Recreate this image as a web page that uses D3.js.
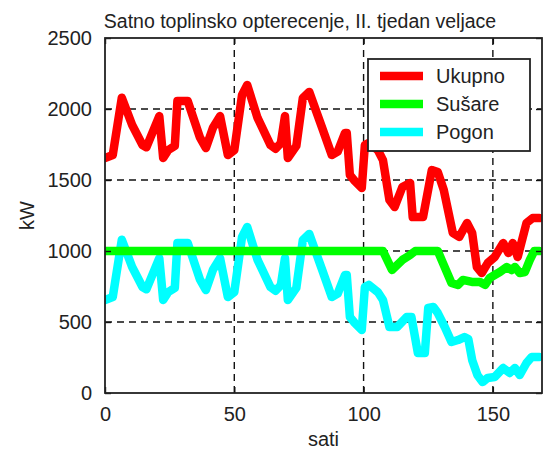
<!DOCTYPE html>
<html>
<head>
<meta charset="utf-8">
<script src="https://cdn.jsdelivr.net/npm/d3@7"></script>
<style>
  body { margin: 0; background: #fff; }
  text { font-family: "Liberation Sans", Arial, sans-serif; fill: #222; }
</style>
</head>
<body>
<div id="chart"></div>
<script>
// hourly heat load, second week of February
// each point is [hour, kW]
let pogon = [
  [0, 655], [3, 676], [6.5, 1080], [10.5, 887], [14.5, 746], [16, 730], [21, 950],
  [22.5, 655], [24.5, 711], [27, 740], [28, 1056], [32, 1056], [36.7, 800], [39, 725],
  [41.7, 866], [44.5, 950], [47.5, 676], [50, 711], [53, 1099], [55, 1169], [59, 937],
  [64, 746], [66, 720], [68, 760], [69.6, 950], [70.7, 655], [74, 740], [76.5, 1077],
  [79, 1120], [84, 866], [87.7, 676], [90, 700], [92.8, 831], [93.5, 831], [94.7, 535],
  [96.6, 493], [99.3, 444], [100.5, 746], [102, 761], [105.5, 711], [107.5, 655],
  [110, 465], [113, 465], [116.7, 535], [118.5, 535], [121, 282], [123.7, 282],
  [125, 599], [127, 606], [128.7, 563], [131.4, 465], [134, 359], [136.5, 373],
  [139, 394], [140.5, 380], [142, 232], [144, 127], [146, 77], [148, 106], [150.7, 113],
  [154, 176], [156.5, 141], [158.5, 176], [160.4, 127], [163, 211], [165, 254], [168, 254]
];

let susare = [
  [0, 1000], [107.5, 1000], [111, 866], [115, 937], [118, 972], [120, 1000], [128.7, 1000],
  [130.7, 915], [134, 775], [136.5, 761], [138.4, 796], [141.9, 782], [145, 782],
  [147, 761], [148.8, 810], [150.7, 831], [152.7, 852], [155.4, 887], [157.3, 866],
  [158.5, 887], [160.4, 845], [162.4, 852], [164.3, 937], [166, 1000], [168, 1000]
];

let ukupno = [
  [0, 1655], [3, 1676], [6.5, 2080], [10.5, 1887], [14.5, 1746], [16, 1730], [21, 1950],
  [22.5, 1655], [24.5, 1711], [27, 1740], [28, 2056], [32, 2056], [36.7, 1800], [39, 1725],
  [41.7, 1866], [44.5, 1950], [47.5, 1676], [50, 1711], [53, 2099], [55, 2169], [59, 1937],
  [64, 1746], [66, 1720], [68, 1760], [69.6, 1950], [70.7, 1655], [74, 1740], [76.5, 2077],
  [79, 2120], [84, 1866], [87.7, 1676], [90, 1700], [92.8, 1831], [93.5, 1831], [94.7, 1535],
  [96.6, 1493], [99.3, 1444], [100.5, 1746], [102, 1761], [105.5, 1711], [107.5, 1640],
  [110, 1359], [112, 1310], [115, 1451], [118, 1479], [119, 1239], [123, 1239],
  [126.4, 1570], [128.7, 1556], [131, 1430], [134.5, 1127], [137, 1099], [140, 1197],
  [142, 1127], [143.8, 887], [145.7, 845], [148, 915], [150.7, 958], [154, 1056],
  [156, 986], [157.7, 1056], [159.6, 958], [163, 1197], [165.4, 1232], [168, 1232]
];

let seriesNames = ["Ukupno", "Sušare", "Pogon"];
let seriesColors = ["#ff0000", "#00ff00", "#00ffff"];
let xTicks = [0, 50, 100, 150];
let yTicks = [0, 500, 1000, 1500, 2000, 2500];

let width = 551;
let height = 449;
let margin = { top: 38, right: 9, bottom: 56, left: 105 };
let plotW = width - margin.left - margin.right;
let plotH = height - margin.top - margin.bottom;

let svg = d3.select("#chart")
  .append("svg")
  .attr("width", width)
  .attr("height", height);

let chart = svg.append("g")
  .attr("transform", "translate(" + margin.left + "," + margin.top + ")");

let xScale = d3.scaleLinear().domain([0, 169]).range([0, plotW]);
let yScale = d3.scaleLinear().domain([0, 2500]).range([plotH, 0]);

// dashed grid
chart.append("g")
  .selectAll("line")
  .data(xTicks.slice(1))
  .enter()
  .append("line")
  .attr("x1", function(d) { return xScale(d); })
  .attr("x2", function(d) { return xScale(d); })
  .attr("y1", 0)
  .attr("y2", plotH)
  .attr("stroke", "#111")
  .attr("stroke-width", 1.4)
  .attr("stroke-dasharray", "7,5");

chart.append("g")
  .selectAll("line")
  .data(yTicks.slice(1, -1))
  .enter()
  .append("line")
  .attr("x1", 0)
  .attr("x2", plotW)
  .attr("y1", function(d) { return yScale(d); })
  .attr("y2", function(d) { return yScale(d); })
  .attr("stroke", "#111")
  .attr("stroke-width", 1.4)
  .attr("stroke-dasharray", "7,5");

// lines, clipped to the axes box
svg.append("clipPath").attr("id", "clip")
  .append("rect")
  .attr("x", 0).attr("y", 0)
  .attr("width", plotW).attr("height", plotH);

let line = d3.line()
  .x(function(d) { return xScale(d[0]); })
  .y(function(d) { return yScale(d[1]); });

let allSeries = [ukupno, susare, pogon];
let lines = chart.append("g").attr("clip-path", "url(#clip)");

// draw pogon first, then susare, then ukupno on top
[2, 1, 0].forEach(function(i) {
  lines.append("path")
    .datum(allSeries[i])
    .attr("d", line)
    .attr("fill", "none")
    .attr("stroke", seriesColors[i])
    .attr("stroke-width", 8.5)
    .attr("stroke-linejoin", "round")
    .attr("stroke-linecap", "round");
});

// axes with inward ticks, matlab style box
chart.append("g")
  .attr("transform", "translate(0," + plotH + ")")
  .call(d3.axisBottom(xScale).tickValues(xTicks).tickSizeInner(-6).tickSizeOuter(0).tickPadding(14))
  .call(function(g) {
    g.select(".domain").remove();
    g.selectAll("text").style("font-size", "20px").attr("fill", "#222");
  });

chart.append("g")
  .call(d3.axisLeft(yScale).tickValues(yTicks).tickFormat(d3.format("d"))
    .tickSizeInner(-6).tickSizeOuter(0).tickPadding(13))
  .call(function(g) {
    g.select(".domain").remove();
    g.selectAll("text").style("font-size", "20px").attr("fill", "#222");
  });

chart.append("g")
  .call(d3.axisTop(xScale).tickValues(xTicks).tickSizeInner(-6).tickSizeOuter(0).tickFormat(""))
  .call(function(g) { g.select(".domain").remove(); });

chart.append("g")
  .attr("transform", "translate(" + plotW + ",0)")
  .call(d3.axisRight(yScale).tickValues(yTicks).tickSizeInner(-6).tickSizeOuter(0).tickFormat(""))
  .call(function(g) { g.select(".domain").remove(); });

chart.selectAll(".tick line").attr("stroke", "#111").attr("stroke-width", 1.4);

chart.append("rect")
  .attr("x", 0)
  .attr("y", 0)
  .attr("width", plotW)
  .attr("height", plotH)
  .attr("fill", "none")
  .attr("stroke", "#222")
  .attr("stroke-width", 1.8);

// title and axis labels
svg.append("text")
  .attr("x", 300)
  .attr("y", 28)
  .attr("text-anchor", "middle")
  .style("font-size", "19.5px")
  .text("Satno toplinsko opterecenje, II. tjedan veljace");

svg.append("text")
  .attr("x", margin.left + plotW / 2)
  .attr("y", 446)
  .attr("text-anchor", "middle")
  .style("font-size", "20px")
  .text("sati");

svg.append("text")
  .attr("transform", "translate(34," + (margin.top + plotH / 2) + ") rotate(-90)")
  .attr("text-anchor", "middle")
  .style("font-size", "20px")
  .text("kW");

// legend
let legend = svg.append("g")
  .attr("transform", "translate(368,59)");

legend.append("rect")
  .attr("width", 162)
  .attr("height", 92)
  .attr("fill", "#fff")
  .attr("stroke", "#222")
  .attr("stroke-width", 1.8);

legend.selectAll("line")
  .data(seriesNames)
  .enter()
  .append("line")
  .attr("x1", 12)
  .attr("x2", 55)
  .attr("y1", function(d, i) { return 17 + i * 28; })
  .attr("y2", function(d, i) { return 17 + i * 28; })
  .attr("stroke", function(d, i) { return seriesColors[i]; })
  .attr("stroke-width", 8.5);

legend.selectAll("text")
  .data(seriesNames)
  .enter()
  .append("text")
  .attr("x", 68)
  .attr("y", function(d, i) { return 17 + i * 28; })
  .attr("dy", "0.35em")
  .style("font-size", "20px")
  .text(function(d) { return d; });
</script>
</body>
</html>
